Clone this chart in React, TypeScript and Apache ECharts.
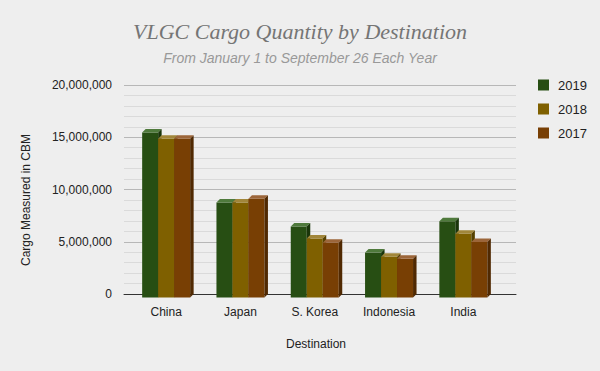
import React, { useEffect, useRef } from "react";
import * as echarts from "echarts";

const categories = ["China", "Japan", "S. Korea", "Indonesia", "India"];
const years = ["2019", "2018", "2017"];
const values2019 = [15800000, 9100000, 6800000, 4300000, 7300000];
const values2018 = [15200000, 9100000, 5650000, 3900000, 6100000];
const values2017 = [15200000, 9450000, 5250000, 3700000, 5300000];
const yTicks = [0, 5000000, 10000000, 15000000, 20000000];

const seriesValues = [values2019, values2018, values2017];
const frontColors = ["#274e13", "#7f6000", "#783f04"];
const topColors = ["#4f7a3c", "#a1863a", "#9c663a"];
const sideColors = ["#1a360b", "#564100", "#502902"];

export default function App() {
  const ref = useRef<HTMLDivElement>(null);
  useEffect(() => {
    if (!ref.current) return;
    document.body.style.margin = "0";
    const chart = echarts.init(ref.current, null, { renderer: "svg" });
    const D = 3.5;
    const makeSeries = (k: number) => ({
      type: "custom",
      name: years[k],
      xAxisIndex: 1,
      yAxisIndex: 1,
      clip: false,
      itemStyle: { color: frontColors[k] },
      data: seriesValues[k].map((v, i) => [i, v]),
      renderItem: (params: any, api: any) => {
        const cat = api.value(0);
        const v = api.value(1);
        const top = api.coord([cat, v]);
        const base = api.coord([cat, 0]);
        const band = api.size([1, 0])[0];
        const barW = band * 0.2153;
        const xl = top[0] - 1.5 * barW + k * barW;
        const xr = xl + barW;
        const ft = top[1] + D;
        const fb = base[1] + D;
        return {
          type: "group",
          children: [
            {
              type: "rect",
              shape: { x: xl, y: ft, width: barW, height: fb - ft },
              style: { fill: frontColors[k] },
            },
            {
              type: "polygon",
              shape: { points: [[xl, ft], [xr, ft], [xr + D, ft - D], [xl + D, ft - D]] },
              style: { fill: topColors[k] },
            },
            {
              type: "polygon",
              shape: { points: [[xr, ft], [xr + D, ft - D], [xr + D, fb - D], [xr, fb]] },
              style: { fill: sideColors[k] },
            },
          ],
        };
      },
    });

    const option: any = {
      animation: false,
      backgroundColor: "#eeeeee",
      textStyle: { fontFamily: "Liberation Sans, Arial, sans-serif" },
      grid: [
        { left: 124, right: 84, top: 85, bottom: 77 },
        { left: 129, right: 99.5, top: 85, bottom: 77 },
      ],
      xAxis: [
        {
          type: "value",
          gridIndex: 0,
          min: 0,
          max: 1,
          axisLine: { show: true, onZero: false, lineStyle: { color: "#333333", width: 1 } },
          axisTick: { show: false },
          axisLabel: { show: false },
          splitLine: { show: false },
        },
        {
          type: "category",
          gridIndex: 1,
          data: categories,
          axisLine: { show: false },
          axisTick: { show: false },
          splitLine: { show: false },
          axisLabel: { color: "#222222", fontSize: 12, margin: 12 },
        },
      ],
      yAxis: [
        {
          type: "value",
          gridIndex: 0,
          min: yTicks[0],
          max: yTicks[yTicks.length - 1],
          interval: 5000000,
          axisLine: { show: false },
          axisTick: { show: false },
          axisLabel: {
            color: "#222222",
            fontSize: 12,
            margin: 12,
            formatter: (v: number) => v.toLocaleString("en-US"),
          },
          splitLine: { show: true, lineStyle: { color: "#b7b7b7", width: 1 } },
          minorTick: { show: false, splitNumber: 5 },
          minorSplitLine: { show: true, lineStyle: { color: "#dadada", width: 1 } },
        },
        {
          type: "value",
          gridIndex: 1,
          min: yTicks[0],
          max: yTicks[yTicks.length - 1],
          interval: 5000000,
          show: false,
          splitLine: { show: false },
        },
      ],
      legend: {
        data: years,
        orient: "vertical",
        left: 533,
        top: 73,
        icon: "rect",
        itemWidth: 11,
        itemHeight: 11,
        itemGap: 10,
        textStyle: { color: "#222222", fontSize: 13, lineHeight: 14, padding: [0, 0, 0, 4] },
      },
      graphic: [
        {
          type: "text",
          x: 300,
          y: 31,
          style: {
            text: "VLGC Cargo Quantity by Destination",
            fill: "#757575",
            font: "italic 22px 'Liberation Serif', serif",
            textAlign: "center",
            textVerticalAlign: "middle",
          },
        },
        {
          type: "text",
          x: 300,
          y: 58,
          style: {
            text: "From January 1 to September 26 Each Year",
            fill: "#999999",
            font: "italic 14px 'Liberation Sans', Arial, sans-serif",
            textAlign: "center",
            textVerticalAlign: "middle",
          },
        },
        {
          type: "text",
          x: 316,
          y: 344,
          style: {
            text: "Destination",
            fill: "#222222",
            font: "12px 'Liberation Sans', Arial, sans-serif",
            textAlign: "center",
            textVerticalAlign: "middle",
          },
        },
        {
          type: "text",
          x: 26,
          y: 200,
          rotation: Math.PI / 2,
          style: {
            text: "Cargo Measured in CBM",
            fill: "#222222",
            font: "12px 'Liberation Sans', Arial, sans-serif",
            textAlign: "center",
            textVerticalAlign: "middle",
          },
        },
      ],
      series: [makeSeries(0), makeSeries(1), makeSeries(2)],
    };
    chart.setOption(option);
    return () => chart.dispose();
  }, []);
  return <div ref={ref} style={{ width: 600, height: 371 }} />;
}
